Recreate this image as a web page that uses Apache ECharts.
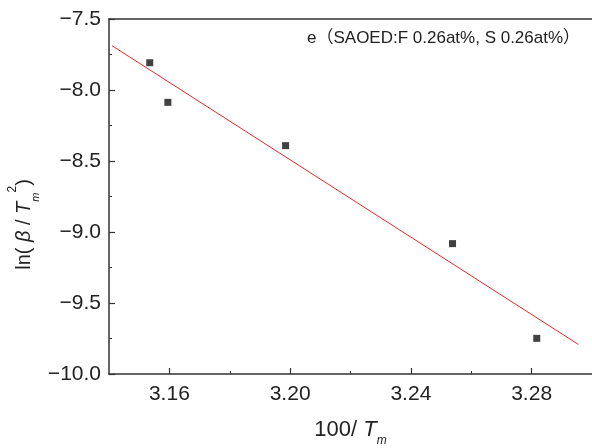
<!DOCTYPE html>
<html>
<head>
<meta charset="utf-8">
<script src="https://cdn.jsdelivr.net/npm/echarts@6/dist/echarts.min.js"></script>
<style>
  html, body { margin: 0; padding: 0; background: #fff; }
  #chart { width: 592px; height: 448px; }
</style>
</head>
<body>
<div id="chart"></div>
<script>
// Measured points: 100/Tm versus ln(beta/Tm^2)
const invTm = [3.1535, 3.1595, 3.1985, 3.2538, 3.2817];
const lnBetaT2 = [-7.808, -8.087, -8.392, -9.082, -9.749];

// End points of the linear fit line
const fitX = [3.141, 3.2955];
const fitY = [-7.688, -9.792];

// Axis ticks
const xMajorTicks = [3.16, 3.20, 3.24, 3.28];
const xMinorTicks = [3.18, 3.22, 3.26];
const yTicks = [-10.0, -9.5, -9.0, -8.5, -8.0, -7.5];

const sampleLabel = 'e\uFF08SAOED:F 0.26at%, S 0.26at%\uFF09';

const FONT = '"Liberation Sans", Arial, "Noto Sans CJK JP", sans-serif';
const AXIS_COLOR = '#333';

const points = invTm.map((x, i) => [x, lnBetaT2[i]]);
const fitLine = fitX.map((x, i) => [x, fitY[i]]);

const chart = echarts.init(document.getElementById('chart'), null, { renderer: 'canvas' });

const fmtX = v => v.toFixed(2);
const fmtY = v => (v < 0 ? '\u2212' : '') + Math.abs(v).toFixed(1);

const baseX = {
  type: 'value',
  min: 3.14,
  max: 3.30,
  splitLine: { show: false },
  gridIndex: 0
};

const option = {
  backgroundColor: '#fff',
  animation: false,
  grid: { left: 109, right: 0, top: 19, bottom: 74, containLabel: false, outerBoundsMode: 'none' },
  xAxis: [
    Object.assign({}, baseX, {
      position: 'bottom',
      axisLine: { show: true, onZero: false, lineStyle: { color: AXIS_COLOR, width: 1.5 } },
      axisTick: { show: true, inside: true, length: 6, customValues: xMajorTicks,
                  lineStyle: { color: AXIS_COLOR, width: 1.2 } },
      axisLabel: { show: true, customValues: xMajorTicks, formatter: fmtX, margin: 10,
                   fontSize: 21, fontFamily: FONT, color: '#222' },
      name: '{n|100/ }{i|T}{s|m}',
      nameLocation: 'middle',
      nameGap: 39,
      nameMoveOverlap: false,
      nameTextStyle: {
        rich: {
          n: { fontSize: 22, fontFamily: FONT, color: '#222', lineHeight: 34, verticalAlign: 'middle' },
          i: { fontSize: 22, fontFamily: FONT, fontStyle: 'italic', color: '#222', lineHeight: 34, verticalAlign: 'middle' },
          s: { fontSize: 12, fontFamily: FONT, fontStyle: 'italic', color: '#222', verticalAlign: 'bottom' }
        }
      }
    }),
    Object.assign({}, baseX, {
      position: 'bottom',
      axisLine: { show: false },
      axisTick: { show: true, inside: true, length: 3, customValues: xMinorTicks,
                  lineStyle: { color: AXIS_COLOR, width: 1 } },
      axisLabel: { show: false }
    }),
    Object.assign({}, baseX, {
      position: 'top',
      axisLine: { show: true, onZero: false, lineStyle: { color: AXIS_COLOR, width: 1.5 } },
      axisTick: { show: false },
      axisLabel: { show: false }
    })
  ],
  yAxis: {
    type: 'value',
    min: yTicks[0],
    max: yTicks[yTicks.length - 1],
    interval: 0.5,
    splitLine: { show: false },
    axisLine: { show: true, onZero: false, lineStyle: { color: AXIS_COLOR, width: 1.5 } },
    axisTick: { show: true, inside: true, length: 6, lineStyle: { color: AXIS_COLOR, width: 1.2 } },
    minorTick: { show: true, splitNumber: 2, length: 3, lineStyle: { color: AXIS_COLOR, width: 1 } },
    axisLabel: { formatter: fmtY, margin: 8, fontSize: 21, fontFamily: FONT, color: '#222' },
    name: '{n|ln( }{i|\u03B2}{n| / }{i|T}{s|m}{p|2}{n|)}',
    nameLocation: 'middle',
    nameGap: 68,
    nameMoveOverlap: false,
    nameTextStyle: {
      padding: [0, 56, 0, 0],
      rich: {
        n: { fontSize: 20, fontFamily: FONT, color: '#222', lineHeight: 34, verticalAlign: 'middle' },
        i: { fontSize: 20, fontFamily: FONT, fontStyle: 'italic', color: '#222', lineHeight: 34, verticalAlign: 'middle' },
        s: { fontSize: 11, fontFamily: FONT, fontStyle: 'italic', color: '#222', verticalAlign: 'bottom' },
        p: { fontSize: 12, fontFamily: FONT, color: '#222', verticalAlign: 'top' }
      }
    }
  },
  graphic: [{
    type: 'text',
    left: 307,
    top: 30,
    style: { text: sampleLabel, fontSize: 17, fontFamily: FONT, fill: '#222' }
  }],
  series: [
    {
      type: 'line',
      data: fitLine,
      xAxisIndex: 0,
      showSymbol: false,
      symbol: 'none',
      lineStyle: { color: '#e8262b', width: 1 },
      silent: true,
      z: 2
    },
    {
      type: 'scatter',
      data: points,
      xAxisIndex: 0,
      symbol: 'rect',
      symbolSize: 7,
      itemStyle: { color: '#111' },
      z: 3
    }
  ]
};

chart.setOption(option);
</script>
</body>
</html>
